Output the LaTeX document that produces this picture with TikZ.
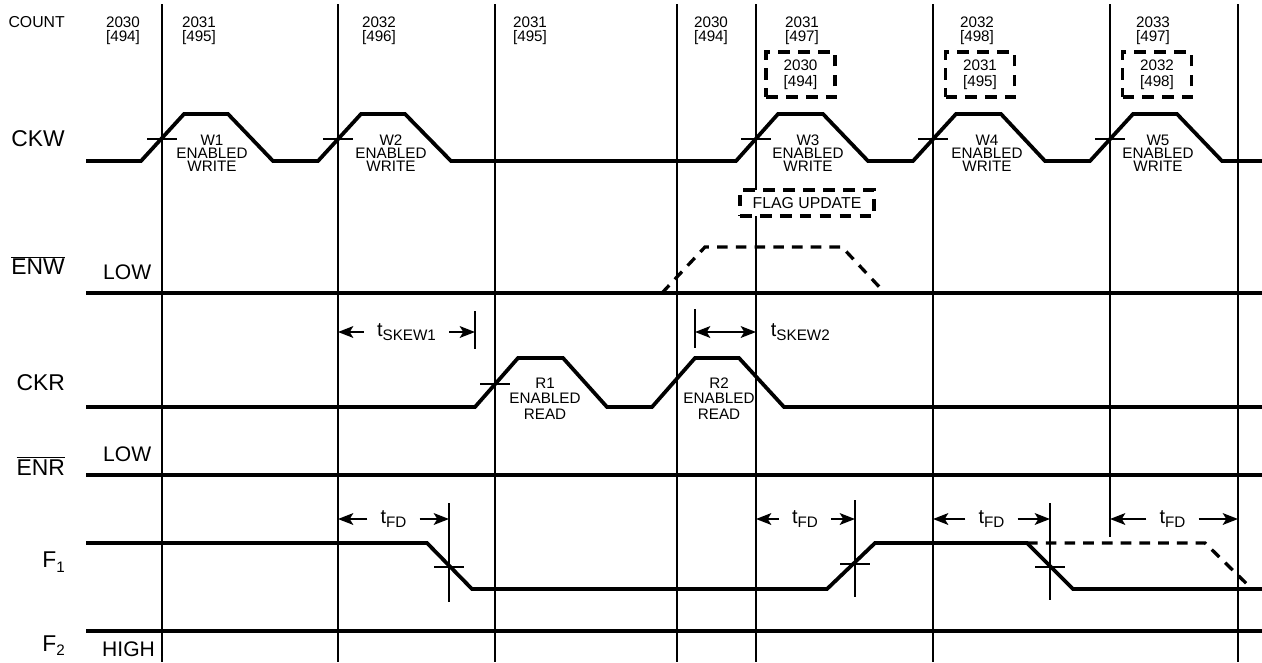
\documentclass[tikz,border=0pt]{standalone}
\usepackage{fontspec}
\setmainfont{Liberation Sans}
\usetikzlibrary{arrows.meta,positioning}

\newcommand{\lowsub}[1]{\raisebox{-4pt}{\fontsize{13}{13}\selectfont #1}}

\tikzset{
  % Signal traces
  sig/.style={line width=3.2pt,line join=miter},
  sigd/.style={line width=2.8pt,dash pattern=on 9pt off 7pt},
  % Clock edge lines and markers
  grid/.style={line width=1.7pt},
  tick/.style={line width=1.5pt},
  % Timing arrows
  dimarr/.style={-{Stealth[length=13pt,width=10pt,inset=3pt]},line width=1.8pt},
  dimdbl/.style={{Stealth[length=13pt,width=10pt,inset=3pt]}-{Stealth[length=13pt,width=10pt,inset=3pt]},line width=1.8pt},
  % Labels
  rowlbl/.style={anchor=east,inner sep=0pt,font=\fontsize{19.5}{19.5}\selectfont},
  lvllbl/.style={anchor=west,inner sep=0pt,font=\fontsize{18}{18}\selectfont},
  cntlbl/.style={align=center,inner sep=0pt,font=\fontsize{13}{12}\selectfont},
  cntbox/.style={draw,line width=2.8pt,dash pattern=on 10pt off 7pt,
    minimum width=20.7mm,minimum height=13.5mm,align=center,inner sep=0pt,
    font=\fontsize{13}{13.7}\selectfont},
  flagbox/.style={draw,fill=white,line width=2.8pt,dash pattern=on 10pt off 7pt,
    minimum width=40.2mm,minimum height=7.8mm,inner sep=0pt,
    font=\fontsize{13.5}{13.5}\selectfont},
  pulselbl/.style={align=center,inner sep=0pt,font=\fontsize{13}{11.3}\selectfont},
  readlbl/.style={align=center,inner sep=0pt,font=\fontsize{13}{13.2}\selectfont},
  tlbl/.style={inner xsep=3.9mm,inner ysep=0pt,font=\fontsize{17}{17}\selectfont},
}

\begin{document}
\begin{tikzpicture}[x=0.3mm,y=-0.3mm]
  \useasboundingbox (0,0) rectangle (1262,662);

  % Clock edge reference lines
  \foreach \x/\n/\e in {162/1/662,338/2/662,495/3/662,677/4/662,756/5/662,933/6/662,1110/7/537,1238/8/662}{
    \coordinate (g\n) at (\x,4);
    \draw[grid] (g\n) -- (\x,\e);
  }

  % Row names
  \node[rowlbl,font=\fontsize{13.5}{13.5}\selectfont] (lcount) at (65,22.5) {COUNT};
  \node[rowlbl] (lckw) at (65,139) {CKW};
  \node[rowlbl] (lenw) at (65,265.5) {$\overline{\mbox{ENW}}$};
  \node[rowlbl] (lckr) at (65,383) {CKR};
  \node[rowlbl] (lenr) at (65,466) {$\overline{\mbox{ENR}}$};
  \node[rowlbl] (lf1) at (65,562) {F\lowsub{1}};
  \node[rowlbl] (lf2) at (65,645.5) {F\lowsub{2}};
  \node[lvllbl] (lowenw) at (103,272) {LOW};
  \node[lvllbl] (lowenr) at (103,454.5) {LOW};
  \node[lvllbl] (highf2) at (102,649.5) {HIGH};

  % Counter values
  \foreach \x/\c/\a [count=\i] in {123/2030/494,199/2031/495,379/2032/496,530/2031/495,
      711/2030/494,802/2031/497,977/2032/498,1153/2033/497}
    \node[cntlbl] (cnt\i) at (\x,31) {\c\\{}[\a]};
  \node[cntbox] (nb1) at (800.5,74.5) {2030\\{}[494]};
  \node[cntbox] (nb2) at (980,74.5) {2031\\{}[495]};
  \node[cntbox] (nb3) at (1157,74.5) {2032\\{}[498]};

  % Signals
  \draw[sig] (86,161) -- (141,161) -- (184,114) -- (228,114) -- (273,161)
    -- (318,161) -- (361,114) -- (405,114) -- (451,161)
    -- (736,161) -- (778,114) -- (823,114) -- (868,161)
    -- (913,161) -- (956,114) -- (1001,114) -- (1045,161)
    -- (1090,161) -- (1133,114) -- (1177,114) -- (1222,161) -- (1262,161);
  \draw[sig] (86,293) -- (1262,293);
  \draw[sigd] (662,293) -- (705,247) -- (842,247) -- (885,293);
  \draw[sig] (86,407) -- (475,407) -- (518,358) -- (563,358) -- (607,407)
    -- (652,407) -- (695,358) -- (739,358) -- (784,407) -- (1262,407);
  \draw[sig] (86,475) -- (1262,475);
  \draw[sig] (86,543) -- (427,543) -- (472,589) -- (827,589) -- (875,543)
    -- (1027,543) -- (1073,589) -- (1262,589);
  \draw[sigd] (1027,543) -- (1205,543) -- (1252,589);
  \draw[sig] (86,631) -- (1262,631);

  % Edge crossings
  \foreach \x/\y in {162/139,338/139,756/139,933/139,1110/139,495/384,449/567,855/564,1050/567}
    \draw[tick] (\x-15,\y) -- (\x+15,\y);

  % Pulse names
  \foreach \x/\w in {212/1,391/2,808/3,987/4,1158/5}
    \node[pulselbl] (w\w) at (\x,153) {W\w\\ENABLED\\WRITE};
  \node[readlbl] (r1) at (545,398.5) {R1\\ENABLED\\READ};
  \node[readlbl] (r2) at (719,398.5) {R2\\ENABLED\\READ};
  \node[flagbox] (flag) at (807,203) {FLAG UPDATE};

  % Timing markers
  \coordinate (mk1) at (475,311); \draw[grid] (mk1) -- (475,349);
  \coordinate (mk2) at (695,309); \draw[grid] (mk2) -- (695,348);
  \coordinate (mk3) at (449,503); \draw[grid] (mk3) -- (449,602);
  \coordinate (mk4) at (855,500); \draw[grid] (mk4) -- (855,597);
  \coordinate (mk5) at (1050,503); \draw[grid] (mk5) -- (1050,600);

  % Skew times
  \node[tlbl] (sk1) at (406.5,332) {t\lowsub{SKEW1}};
  \draw[dimarr] (sk1.west) -- (sk1.west -| g2);
  \draw[dimarr] (sk1.east) -- (sk1.east -| mk1);
  \coordinate (skA) at (695,332);
  \coordinate (skB) at (756,332);
  \draw[dimdbl] (skA) -- (skB);
  \node[tlbl,right=0.5mm of skB] (sk2) {t\lowsub{SKEW2}};

  % Flag delays
  \node[tlbl] (fd1) at (393.5,519) {t\lowsub{FD}};
  \draw[dimarr] (fd1.west) -- (fd1.west -| g2);
  \draw[dimarr] (fd1.east) -- (fd1.east -| mk3);
  \node[tlbl] (fd2) at (805,519) {t\lowsub{FD}};
  \draw[dimarr] (fd2.west) -- (fd2.west -| g5);
  \draw[dimarr] (fd2.east) -- (fd2.east -| mk4);
  \node[tlbl] (fd3) at (991.5,519) {t\lowsub{FD}};
  \draw[dimarr] (fd3.west) -- (fd3.west -| g6);
  \draw[dimarr] (fd3.east) -- (fd3.east -| mk5);
  \node[tlbl] (fd4) at (1172.5,519) {t\lowsub{FD}};
  \draw[dimarr] (fd4.west) -- (fd4.west -| g7);
  \draw[dimarr] (fd4.east) -- (fd4.east -| g8);
\end{tikzpicture}
\end{document}
